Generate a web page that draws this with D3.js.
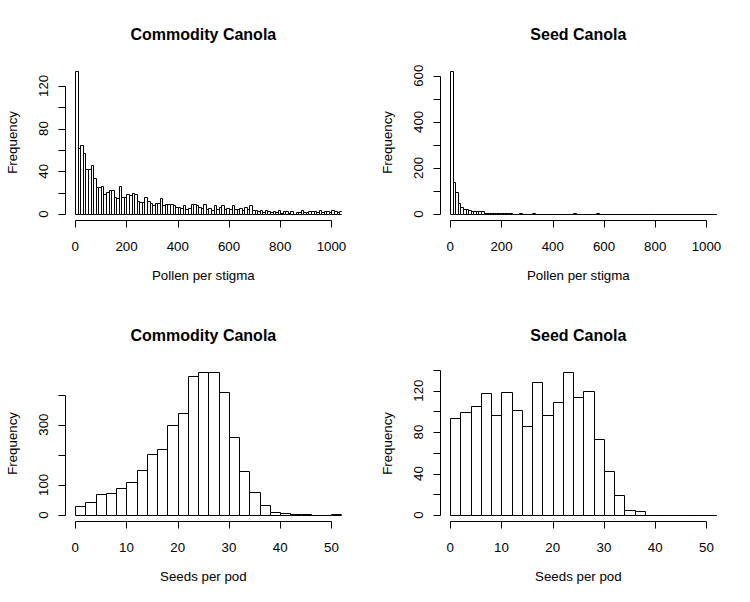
<!DOCTYPE html>
<html>
<head>
<meta charset="utf-8">
<script src="https://cdn.jsdelivr.net/npm/d3@7"></script>
<style>
  body { margin: 0; background: #fff; }
  svg { display: block; font-family: "Liberation Sans", Arial, sans-serif; }
</style>
</head>
<body>
<div id="chart"></div>
<script>
// counts per bin
const commodityPollen = [
    134, 62, 65, 57, 42, 42, 46, 34, 25, 25,
    26, 19, 21, 22, 22, 16, 15, 26, 16, 16,
    19, 18, 20, 19, 12, 11, 11, 16, 12, 10,
    8, 10, 10, 15, 8, 9, 9, 9, 8, 7,
    7, 6, 8, 5, 6, 9, 9, 8, 7, 6,
    9, 5, 6, 4, 8, 5, 7, 8, 5, 6,
    5, 8, 5, 5, 6, 4, 7, 5, 8, 4,
    4, 3, 4, 2, 4, 3, 2, 3, 2, 4,
    1, 3, 3, 1, 3, 0, 2, 2, 4, 2,
    2, 3, 3, 3, 2, 4, 2, 3, 3, 2,
    4, 3, 2, 3
];
const seedPollen = [
    621, 139, 94, 48, 30, 22, 20, 16, 14, 13,
    12, 13, 13, 5, 5, 5, 5, 4, 5, 5,
    5, 5, 4, 5, 0, 0, 0, 5, 0, 0,
    0, 0, 4, 0, 0, 0, 0, 0, 0, 0,
    0, 0, 0, 0, 0, 0, 0, 0, 5, 0,
    0, 0, 0, 0, 0, 0, 0, 5, 0, 0,
    0, 0, 0, 0, 0, 0, 0, 0, 0, 0,
    0, 0, 0, 0, 0, 0, 0, 0, 0, 0,
    0, 0, 0, 0, 0, 0, 0, 0, 0, 0,
    0, 0, 0, 0, 0, 0, 0, 0, 0, 0,
    0, 0, 0, 0
];
const commoditySeeds = [31, 44, 70, 73, 91, 110, 151, 203, 219, 299, 340, 463, 475,
    475, 409, 259, 147, 76, 33, 11, 7, 3, 3, 0, 0, 3];
const seedSeeds = [94, 99, 105, 118, 96, 119, 101, 86, 128, 96, 109, 138, 114,
    120, 73, 42, 19, 5, 4, 0, 0, 0, 0, 0, 0, 0];

const pollenBinWidth = 10;
const seedBinWidth = 2;

const pollenTicks = [0, 200, 400, 600, 800, 1000];
const seedTicks = [0, 10, 20, 30, 40, 50];

const commodityPollenYTicks = [0, 20, 40, 60, 80, 100, 120];
const commodityPollenYLabels = [0, 40, 80, 120];
const seedPollenYTicks = [0, 100, 200, 300, 400, 500, 600];
const seedPollenYLabels = [0, 200, 400, 600];
const commoditySeedsYTicks = [0, 100, 200, 300, 400];
const commoditySeedsYLabels = [0, 100, 300];
const seedSeedsYTicks = [0, 20, 40, 60, 80, 100, 120, 140];
const seedSeedsYLabels = [0, 40, 80, 120];

const titles = ["Commodity Canola", "Seed Canola"];
const xLabels = ["Pollen per stigma", "Seeds per pod"];

const width = 750, height = 602;
const cellW = 375, cellH = 301;
const region = { left: 65, right: 341.7, top: 65.2, bottom: 219.7 };

const svg = d3.select("#chart").append("svg")
    .attr("width", width)
    .attr("height", height);

svg.append("rect").attr("width", width).attr("height", height).attr("fill", "#fff");

function drawHistogram(g, id, p) {
    const x = d3.scaleLinear()
        .domain([-0.04 * p.xlim, 1.04 * p.xlim])
        .range([region.left, region.right]);
    const m = d3.max(p.counts);
    const y = d3.scaleLinear()
        .domain([-0.04 * m, 1.04 * m])
        .range([region.bottom, region.top]);

    g.append("clipPath").attr("id", id)
        .append("rect")
        .attr("x", region.left).attr("y", region.top)
        .attr("width", region.right - region.left)
        .attr("height", region.bottom - region.top);

    // bars as paths so empty bins still show as a line
    g.append("g")
        .attr("clip-path", `url(#${id})`)
        .selectAll("path")
        .data(p.counts)
        .join("path")
        .attr("d", (d, i) => {
            const x0 = Math.round(x(i * p.bw)) + 0.5;
            const x1 = Math.round(x((i + 1) * p.bw)) + 0.5;
            const y0 = Math.round(y(0)) + 0.5;
            const y1 = Math.round(y(d)) + 0.5;
            return `M${x0},${y0}V${y1}H${x1}V${y0}Z`;
        })
        .attr("fill", "#fff")
        .attr("stroke", "#000")
        .attr("stroke-width", 1);

    // x axis
    const xa = g.append("g").attr("transform", `translate(0,${Math.round(region.bottom) + 0.5})`);
    xa.append("path")
        .attr("d", `M${Math.round(x(p.xTicks[0])) + 0.5},0H${Math.round(x(p.xTicks[p.xTicks.length - 1])) + 0.5}`)
        .attr("stroke", "#000");
    xa.selectAll("line").data(p.xTicks).join("line")
        .attr("x1", d => Math.round(x(d)) + 0.5).attr("x2", d => Math.round(x(d)) + 0.5)
        .attr("y1", 0).attr("y2", 7)
        .attr("stroke", "#000");
    xa.selectAll("text").data(p.xTicks).join("text")
        .attr("x", d => x(d))
        .attr("y", 30)
        .attr("text-anchor", "middle")
        .attr("font-size", "13.3px")
        .text(d => d);

    // y axis
    const ya = g.append("g").attr("transform", `translate(${Math.round(region.left) + 0.5},0)`);
    ya.append("path")
        .attr("d", `M0,${Math.round(y(p.yTicks[0])) + 0.5}V${Math.round(y(p.yTicks[p.yTicks.length - 1])) + 0.5}`)
        .attr("stroke", "#000");
    ya.selectAll("line").data(p.yTicks).join("line")
        .attr("y1", d => Math.round(y(d)) + 0.5).attr("y2", d => Math.round(y(d)) + 0.5)
        .attr("x1", 0).attr("x2", -7)
        .attr("stroke", "#000");
    ya.selectAll("text").data(p.yLabels).join("text")
        .attr("transform", d => `translate(-18,${y(d)}) rotate(-90)`)
        .attr("text-anchor", "middle")
        .attr("font-size", "13.3px")
        .text(d => d);

    const cx = (region.left + region.right) / 2;
    g.append("text")
        .attr("x", cx).attr("y", 40)
        .attr("text-anchor", "middle")
        .attr("font-size", "16px")
        .attr("font-weight", "bold")
        .text(p.title);
    g.append("text")
        .attr("x", cx).attr("y", 280)
        .attr("text-anchor", "middle")
        .attr("font-size", "13.3px")
        .text(p.xLabel);
    g.append("text")
        .attr("transform", `translate(16.5,${(region.top + region.bottom) / 2}) rotate(-90)`)
        .attr("text-anchor", "middle")
        .attr("font-size", "13.3px")
        .text("Frequency");
}

const panels = [
    { counts: commodityPollen, bw: pollenBinWidth, xlim: 1000, xTicks: pollenTicks,
      yTicks: commodityPollenYTicks, yLabels: commodityPollenYLabels, title: titles[0], xLabel: xLabels[0] },
    { counts: seedPollen, bw: pollenBinWidth, xlim: 1000, xTicks: pollenTicks,
      yTicks: seedPollenYTicks, yLabels: seedPollenYLabels, title: titles[1], xLabel: xLabels[0] },
    { counts: commoditySeeds, bw: seedBinWidth, xlim: 50, xTicks: seedTicks,
      yTicks: commoditySeedsYTicks, yLabels: commoditySeedsYLabels, title: titles[0], xLabel: xLabels[1] },
    { counts: seedSeeds, bw: seedBinWidth, xlim: 50, xTicks: seedTicks,
      yTicks: seedSeedsYTicks, yLabels: seedSeedsYLabels, title: titles[1], xLabel: xLabels[1] }
];

panels.forEach((p, i) => {
    const g = svg.append("g")
        .attr("transform", `translate(${(i % 2) * cellW},${Math.floor(i / 2) * cellH})`);
    drawHistogram(g, "clip" + i, p);
});
</script>
</body>
</html>
